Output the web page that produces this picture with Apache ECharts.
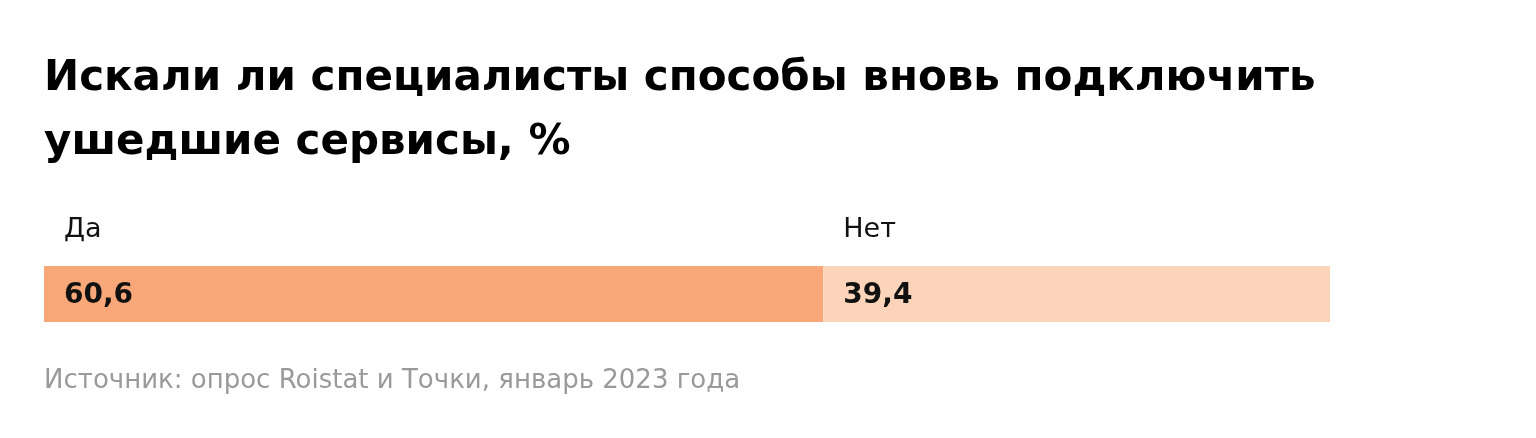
<!DOCTYPE html>
<html>
<head>
<meta charset="utf-8">
<script src="https://cdn.jsdelivr.net/npm/echarts@6/dist/echarts.min.js"></script>
<style>
  html, body { margin: 0; padding: 0; background: #fff; }
  #chart { width: 1536px; height: 438px; }
</style>
</head>
<body>
<div id="chart"></div>
<script>
// данные
const categories = ['Да', 'Нет'];
const values = [60.6, 39.4];
const colors = ['#F8A878', '#FBD4BA'];

const chartTitle = 'Искали ли специалисты способы вновь подключить\nушедшие сервисы, %';
const sourceText = 'Источник: опрос Roistat и Точки, январь 2023 года';

const FONT = 'DejaVu Sans';

let myChart = echarts.init(document.getElementById('chart'));

let series = categories.map((name, i) => ({
  name: name,
  type: 'bar',
  stack: 'total',
  barWidth: 56,
  data: [values[i]],
  itemStyle: { color: colors[i] },
  silent: true,
  label: {
    show: true,
    position: [20, 46],
    verticalAlign: 'bottom',
    align: 'left',
    formatter: p => '{n|' + name + '}\n{v|' + String(p.value).replace('.', ',') + '}',
    rich: {
      n: { fontFamily: FONT, fontSize: 27, color: '#111', lineHeight: 100 },
      v: { fontFamily: FONT, fontSize: 28, fontWeight: 'bold', color: '#111', lineHeight: 32 }
    }
  }
}));

let option = {
  animation: false,
  title: [
    {
      text: chartTitle,
      left: 44,
      top: 47,
      padding: 0,
      textStyle: { fontFamily: FONT, fontSize: 42, fontWeight: 'bold', color: '#000', lineHeight: 64 }
    },
    {
      text: sourceText,
      left: 44,
      top: 368,
      padding: 0,
      textStyle: { fontFamily: FONT, fontSize: 26, fontWeight: 'normal', color: '#9a9a9a' }
    }
  ],
  grid: { left: 44, right: 206, top: 266, height: 56 },
  xAxis: { type: 'value', min: 0, max: 100, show: false },
  yAxis: { type: 'category', data: ['all'], show: false },
  series: series
};

myChart.setOption(option);
</script>
</body>
</html>
